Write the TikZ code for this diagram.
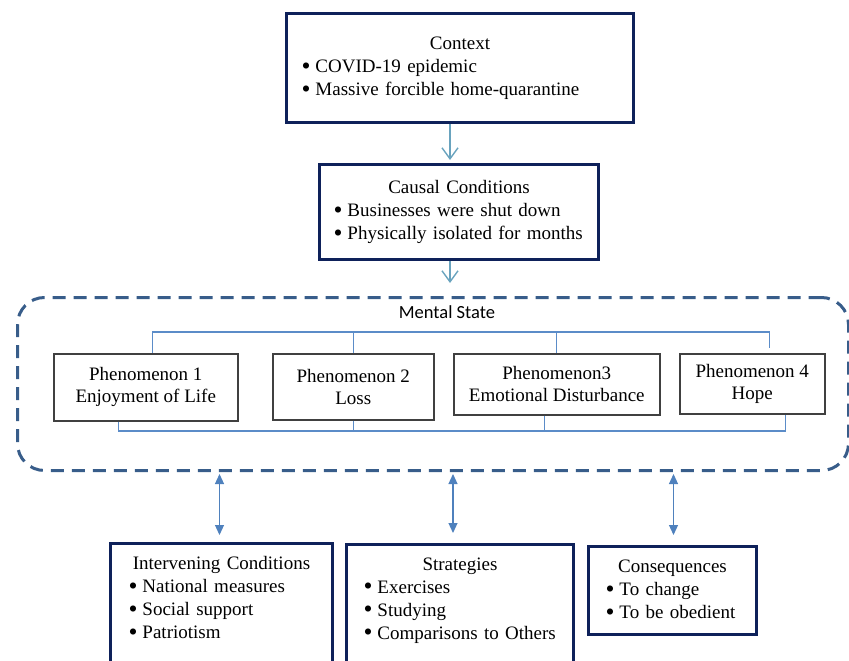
\documentclass[tikz,border=0pt]{standalone}
\usepackage{fontspec}
\setmainfont{Liberation Serif}
\newfontfamily\calfont{Carlito}
\usetikzlibrary{arrows.meta}
\definecolor{navy}{RGB}{14,33,90}
\definecolor{flowcol}{RGB}{105,163,190}
\definecolor{buscol}{RGB}{91,140,200}
\definecolor{dashcol}{RGB}{56,93,138}
\definecolor{linkcol}{RGB}{79,129,189}
\newcommand{\bitem}[1]{\mbox{\raisebox{-0.1em}{\scalebox{1.35}{\textbullet}}\hspace{5pt}#1}}
\newcommand{\btitle}[1]{\makebox[\linewidth]{#1}}

\begin{document}
\begin{tikzpicture}[x=1pt,y=-1pt,
  every node/.style={font=\fontsize{19}{23}\selectfont},
  mainbox/.style={draw=navy,line width=3pt,anchor=north west,align=left,inner ysep=0pt},
  phen/.style={draw=black!75,line width=1.5pt,anchor=north west,align=center,inner sep=0pt,font=\fontsize{19}{22}\selectfont},
  mentalbox/.style={draw=dashcol,line width=3pt,dash pattern=on 13pt off 8pt,rounded corners=27pt,anchor=north west,inner sep=0pt},
  flow/.style={draw=flowcol,line width=1.4pt,-{Straight Barb[length=11pt,width=16pt]}},
  link/.style={draw=linkcol,line width=1.2pt,{Triangle[length=10pt,width=9pt]}-{Triangle[length=10pt,width=9pt]}},
  bus/.style={draw=buscol,line width=1.2pt}]
\useasboundingbox (0,0) rectangle (849,661);

\node[mainbox,text width=317pt,inner xsep=15pt,minimum height=109pt] (ctx) at (285,12)
  {\btitle{Context}\\ \bitem{COVID-19 epidemic}\\ \bitem{Massive forcible home-quarantine}};
\node[mainbox,text width=251pt,inner xsep=14pt,minimum height=95pt] (cc) at (318,163)
  {\btitle{Causal Conditions}\\ \bitem{Businesses were shut down}\\ \bitem{Physically isolated for months}};

\node[mentalbox,minimum width=831pt,minimum height=173pt] (mental) at (16,296) {};
\node[font=\calfont\fontsize{18.5}{22}\selectfont] (mtitle) at (447,312) {Mental State};

\node[phen,minimum width=184pt,minimum height=67pt] (p1) at (53,353) {Phenomenon 1\\Enjoyment of Life};
\node[phen,minimum width=161pt,minimum height=66pt] (p2) at (272,353) {Phenomenon 2\\Loss};
\node[phen,minimum width=206pt,minimum height=61pt] (p3) at (453,353) {Phenomenon3\\Emotional Disturbance};
\node[phen,minimum width=145pt,minimum height=60pt] (p4) at (679,353) {Phenomenon 4\\Hope};

\node[mainbox,text width=186pt,inner xsep=18pt,inner ysep=13pt,text depth=95pt] (ivc) at (109,542)
  {\btitle{Intervening Conditions}\\ \bitem{National measures}\\ \bitem{Social support}\\ \bitem{Patriotism}};
\node[mainbox,text width=193pt,inner xsep=17pt,inner ysep=13pt,text depth=95pt] (str) at (345,543)
  {\btitle{Strategies}\\ \bitem{Exercises}\\ \bitem{Studying}\\ \bitem{Comparisons to Others}};
\node[mainbox,text width=134pt,inner xsep=17pt,minimum height=88pt] (csq) at (587,545)
  {\btitle{Consequences}\\ \bitem{To change}\\ \bitem{To be obedient}};

\coordinate (bustop) at (0,332);
\coordinate (busbot) at (0,431);

\draw[flow,shorten >=3pt] ([xshift=-10pt]ctx.south) -- ([xshift=-10pt]ctx.south |- cc.north);
\draw[flow,shorten >=13pt] ([xshift=-9pt]cc.south) -- ([xshift=-9pt]cc.south |- mental.north);

\draw[bus] ([xshift=7pt]p1.north) |- ([xshift=17pt]p4.north |- bustop) -- ([xshift=17pt,yshift=5pt]p4.north);
\foreach \p in {p2,p3} \draw[bus] (\p.north) -- (\p.north |- bustop);
\draw[bus] ([xshift=-27pt]p1.south) |- ([xshift=33pt]p4.south |- busbot) -- ([xshift=33pt]p4.south);
\draw[bus] (p2.south) -- (p2.south |- busbot);
\draw[bus] ([xshift=-12pt]p3.south) -- ([xshift=-12pt]p3.south |- busbot);

\draw[link,shorten <=2pt,shorten >=7pt] ([xshift=-2pt]ivc.north |- mental.south) -- ([xshift=-2pt]ivc.north);
\draw[link,shorten <=2pt,shorten >=10pt] ([xshift=-7pt]str.north |- mental.south) -- ([xshift=-7pt]str.north);
\draw[link,shorten <=2pt,shorten >=10pt] ([xshift=1pt]csq.north |- mental.south) -- ([xshift=1pt]csq.north);
\end{tikzpicture}
\end{document}
